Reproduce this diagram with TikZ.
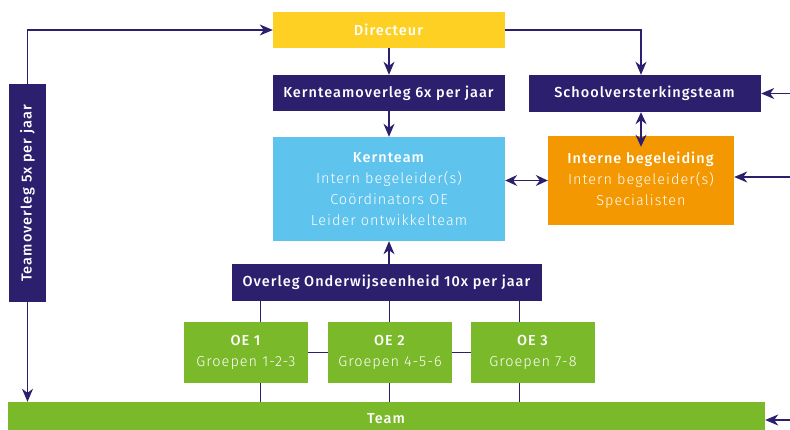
\documentclass[tikz,border=0pt]{standalone}
\usepackage{fontspec}
\setmainfont{Fira Sans}[UprightFont=* Light, BoldFont=* Medium, LetterSpace=7]
\usetikzlibrary{arrows.meta, positioning}
\definecolor{navy}{HTML}{2B1F6E}
\definecolor{sun}{HTML}{FDD023}
\definecolor{sky}{HTML}{5EC3ED}
\definecolor{amber}{HTML}{F39800}
\definecolor{leaf}{HTML}{7AB929}
\tikzset{
  blok/.style={inner sep=0pt, align=center, text=white, font=\fontsize{14.5}{21}\selectfont},
  donker/.style={blok, fill=navy},
  pijl/.style={navy, line width=1.3pt, -{Stealth[length=13pt, width=11pt, inset=4pt]}},
  dpijl/.style={navy, line width=1.3pt, {Stealth[length=12pt, width=11pt, inset=4pt]}-{Stealth[length=12pt, width=11pt, inset=4pt]}},
  lijn/.style={navy, line width=1pt}
}

\begin{document}
\begin{tikzpicture}[x=1pt, y=-1pt]
\useasboundingbox (0,0) rectangle (790,430);

\node[blok, fill=sun, minimum width=232pt, minimum height=36pt] (dir) at (389, 30) {\textbf{Directeur}};
\node[donker, minimum width=232pt, minimum height=36pt] (kto) at (389, 93) {\textbf{Kernteamoverleg 6x per jaar}};
\node[blok, fill=sky, minimum width=232pt, minimum height=104pt] (kt) at (389, 189) {\textbf{Kernteam}\\Intern begeleider(s)\\Coördinators OE\\Leider ontwikkelteam};
\node[donker, minimum width=232pt, minimum height=37pt] (svt) at (645, 93.5) {\textbf{Schoolversterkingsteam}};
\node[blok, fill=amber, minimum width=186pt, minimum height=89pt] (ib) at (641, 180.5) {\textbf{Interne begeleiding}\\Intern begeleider(s)\\Specialisten};
\node[donker, minimum width=218pt, minimum height=37pt, rotate=90] (to) at (27.5, 193) {\textbf{Teamoverleg 5x per jaar}};
\node[donker, minimum width=310pt, minimum height=37pt] (ooe) at (387, 282.5) {\textbf{Overleg Onderwijseenheid 10x per jaar}};
\node[blok, fill=leaf, minimum width=757pt, minimum height=34pt] (team) at (386.5, 419) {\textbf{Team}};

\coordinate (l1) at (260, 0);
\coordinate (l2) at (389, 0);
\coordinate (l3) at (519, 0);
\draw[lijn] (l1 |- ooe.south) -- (l1 |- team.north);
\draw[lijn] (l2 |- ooe.south) -- (l2 |- team.north);
\draw[lijn] (l3 |- ooe.south) -- (l3 |- team.north);

\node[blok, fill=leaf, minimum width=124pt, minimum height=61pt] (oe1) at (246, 352.5) {\textbf{OE 1}\\Groepen 1-2-3};
\node[blok, fill=leaf, minimum width=124pt, minimum height=61pt] (oe2) at (390, 352.5) {\textbf{OE 2}\\Groepen 4-5-6};
\node[blok, fill=leaf, minimum width=124pt, minimum height=61pt] (oe3) at (533, 352.5) {\textbf{OE 3}\\Groepen 7-8};
\draw[lijn] (oe1.east) -- (oe2.west);
\draw[lijn] (oe2.east) -- (oe3.west);

\draw[pijl] (to.east) |- (dir.west);
\draw[pijl] (dir.east) -| (ib.north |- svt.north);
\draw[pijl] (dir.south) -- (kto.north);
\draw[pijl] (kto.south) -- (kt.north);
\draw[pijl] (l2 |- ooe.north) -- (l2 |- kt.south);
\draw[dpijl] (kt.east |- ib.west) -- (ib.west);
\draw[dpijl] (ib.north |- svt.south) -- ([yshift=-11pt]ib.north);
\draw[pijl] (to.west) -- (to.west |- team.north);

\coordinate (in1) at (790, 93.5);
\coordinate (in2) at (790, 177);
\coordinate (in3) at (790, 420);
\draw[pijl] (in1) -- (svt.east);
\draw[pijl] (in2) -- (ib.east |- in2);
\draw[pijl] (in3) -- (team.east |- in3);
\end{tikzpicture}
\end{document}
